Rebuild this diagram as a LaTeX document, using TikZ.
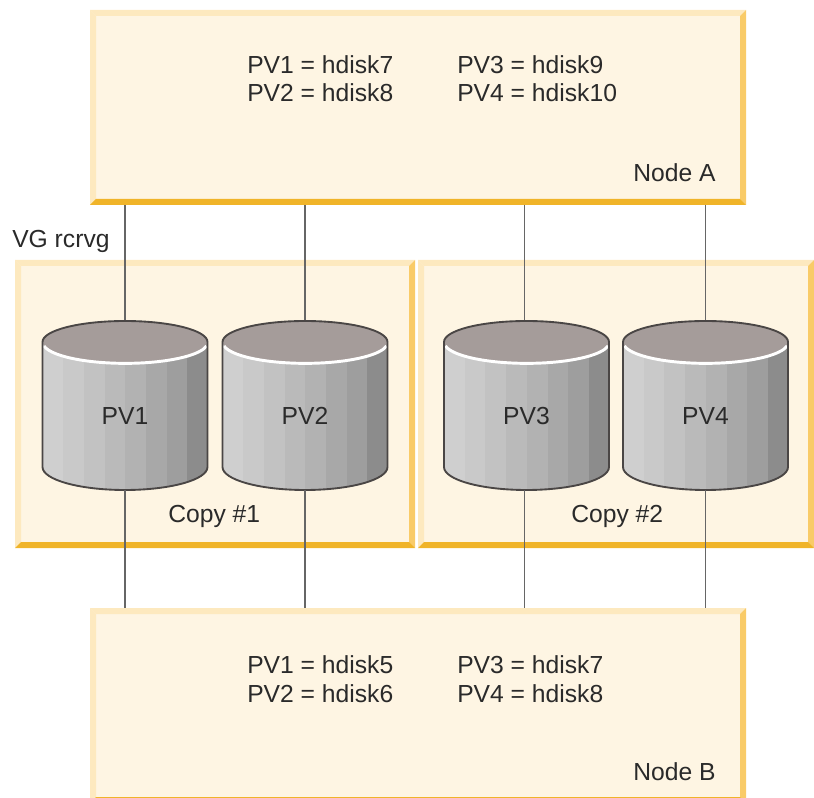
\documentclass[tikz,border=0pt]{standalone}
\usepackage{fontspec}
\setmainfont{Liberation Sans}
\definecolor{panelfill}{HTML}{FEF5E3}
\definecolor{bevellight}{HTML}{FDE9BF}
\definecolor{bevelmid}{HTML}{F9CB68}
\definecolor{beveldark}{HTML}{F0B429}
\definecolor{disktop}{HTML}{A59C9A}
\definecolor{diskline}{HTML}{4A4645}
\definecolor{inktext}{HTML}{2A2A2A}
\tikzset{
	panel/.style = {inner sep = 0, outer sep = 0, fill = panelfill},
	diskshape/.style = {inner sep = 0, outer sep = 0, minimum width = 123.75pt, minimum height = 127.5pt},
	txt/.style = {anchor = base west, inner sep = 0, text = inktext, font = \fontsize{18.5}{20}\selectfont},
	disklabel/.style = {anchor = base, inner sep = 0, text = inktext, font = \fontsize{18.5}{20}\selectfont},
	wire/.style = {draw = black!60, line width = 1pt}
}
% name, centre x, centre y, width, height
\newcommand{\panelbox}[5]{
	\node[panel, minimum width = #4*0.75pt, minimum height = #5*0.75pt] (#1) at (#2,#3) {};
	\fill[bevellight] (#1.north west) -- (#1.north east) -- ([shift={(-6,6)}]#1.north east) -- ([shift={(6,6)}]#1.north west) -- cycle;
	\fill[bevellight] (#1.north west) -- (#1.south west) -- ([shift={(6,-6)}]#1.south west) -- ([shift={(6,6)}]#1.north west) -- cycle;
	\fill[bevelmid] (#1.north east) -- (#1.south east) -- ([shift={(-6,-6)}]#1.south east) -- ([shift={(-6,6)}]#1.north east) -- cycle;
	\fill[beveldark] (#1.south west) -- (#1.south east) -- ([shift={(-6,-6)}]#1.south east) -- ([shift={(6,-6)}]#1.south west) -- cycle;
}
% name, centre x, label
\newcommand{\disk}[3]{
	\fill[disktop] (#2,342) ellipse (82.5 and 21);
	\begin{scope}
		\clip ({#2-82.5},342) -- ({#2-82.5},467) arc (180:0:82.5 and 23) -- ({#2+82.5},342) arc (0:180:82.5 and 21) -- cycle;
		\foreach \i/\g in {0/19,1/21,2/24,3/27,4/30,5/34,6/38,7/45}
			\fill[black!\g] ({#2-82.5+\i*20.7},310) rectangle ({#2-82.5+(\i+1)*20.7},500);
	\end{scope}
	\draw[white, line width = 2.2pt] ({#2-81},346) arc (170:10:82.5 and 21);
	\draw[diskline, line width = 1.4pt] ({#2-82.5},342) -- ({#2-82.5},467) arc (180:0:82.5 and 23) -- ({#2+82.5},342) arc (360:180:82.5 and 21) -- cycle;
	\node[diskshape] (#1) at (#2,405) {};
	\node[disklabel] (#1label) at (#2,425) {#3};
}

\begin{document}
\begin{tikzpicture}[x = 0.75pt, y = 0.75pt, yscale = -1]

	\useasboundingbox (0,0) rectangle (814,798);

	\panelbox{nodeA}{418}{107.5}{656}{195}
	\panelbox{nodeB}{418}{705.5}{656}{195}
	\panelbox{copyA}{215}{404}{400}{288}
	\panelbox{copyB}{616}{404}{396}{288}

	\disk{pvA}{125}{PV1}
	\disk{pvB}{305}{PV2}
	\disk{pvC}{526.5}{PV3}
	\disk{pvD}{705.5}{PV4}

	\draw[wire] (pvA.north) -- (nodeA.south -| pvA.north);
	\draw[wire] (pvB.north) -- (nodeA.south -| pvB.north);
	\draw[wire] ([xshift = -1.5pt]pvC.north) -- ([xshift = -1.5pt]nodeA.south -| pvC.north);
	\draw[wire] (pvD.north) -- (nodeA.south -| pvD.north);

	\draw[wire] (pvA.south) -- (nodeB.north -| pvA.south);
	\draw[wire] (pvB.south) -- (nodeB.north -| pvB.south);
	\draw[wire] ([xshift = -1.5pt]pvC.south) -- ([xshift = -1.5pt]nodeB.north -| pvC.south);
	\draw[wire] (pvD.south) -- (nodeB.north -| pvD.south);

	\node[txt] (mapA) at (247,74) {PV1 = hdisk7};
	\node[txt] (mapB) at (247,102) {PV2 = hdisk8};
	\node[txt] (mapC) at (457,74) {PV3 = hdisk9};
	\node[txt] (mapD) at (457,102) {PV4 = hdisk10};
	\node[txt] (nameA) at (633,182) {Node A};

	\node[txt] (vgname) at (12,248) {VG rcrvg};
	\node[txt] (copyone) at (168,522) {Copy \#1};
	\node[txt] (copytwo) at (571,522) {Copy \#2};

	\node[txt] (mapE) at (247,673) {PV1 = hdisk5};
	\node[txt] (mapF) at (247,702) {PV2 = hdisk6};
	\node[txt] (mapG) at (457,673) {PV3 = hdisk7};
	\node[txt] (mapH) at (457,702) {PV4 = hdisk8};
	\node[txt] (nameB) at (633,780) {Node B};

\end{tikzpicture}
\end{document}
